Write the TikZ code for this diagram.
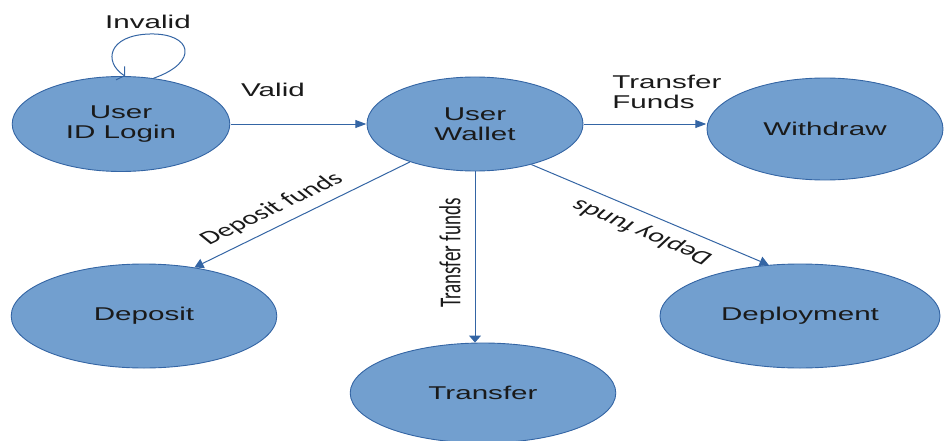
\documentclass[tikz,border=0pt]{standalone}
\usepackage{fontspec}
\setmainfont{Liberation Sans}
\newfontfamily\labfont{Carlito}
\usetikzlibrary{shapes.geometric,arrows.meta}
\definecolor{efill}{HTML}{729FCF}
\definecolor{edraw}{HTML}{3465A4}
\definecolor{ink}{HTML}{1A1A1A}
\begin{document}
\begin{tikzpicture}[x=1pt,y=-1pt,
  st/.style={xscale=1.6},
  state/.style={st, ellipse, draw=edraw, fill=efill, line width=0.9pt, inner sep=0pt,
    text=ink, font=\fontsize{18.5}{20.5}\selectfont, align=center},
  conn/.style={draw=edraw, line width=1pt},
  harr/.style={conn, -{Triangle[length=11pt,width=8pt]}},
  varr/.style={conn, -{Triangle[length=7pt,width=12pt]}},
  darr/.style={conn, -{Triangle[length=9pt,width=10pt]}},
  looparr/.style={conn, -{Straight Barb[length=5pt,width=16pt]}},
  lab/.style={st, text=ink, font=\fontsize{18.5}{20}\selectfont, align=left, inner sep=0pt},
  rlab/.style={st, text=ink, font=\labfont\fontsize{19}{21}\selectfont, inner sep=0pt}]
\useasboundingbox (0,0) rectangle (944,441);

% states
\node[state, minimum width=136pt, minimum height=95pt] (login) at (121,124) {User\\ID Login};
\node[state, minimum width=135pt, minimum height=94pt] (wallet) at (475,124) {User\\Wallet};
\node[state, minimum width=147.5pt, minimum height=102pt] (withdraw) at (825,129) {Withdraw};
\node[state, minimum width=166pt, minimum height=104pt] (deposit) at (144,316) {Deposit};
\node[state, minimum width=166pt, minimum height=100pt] (transfer) at (483,393) {Transfer};
\node[state, minimum width=175pt, minimum height=104pt] (deployment) at (800,316) {Deployment};

% connectors
\draw[looparr] (login.66) .. controls (200,62) and (192,33) .. (150,34)
   .. controls (108,35) and (103,62) .. (login.87);
\draw[harr] (login.east) -- (wallet.west);
\draw[harr] (wallet.east) -- (wallet.east -| withdraw.west);
\draw[varr] (wallet.south) -- (wallet.south |- transfer.north);
\draw[darr] (wallet.223) -- (deposit.57);
\draw[darr] (wallet.311) -- (deployment.111);

% labels
\node[lab] (invalid) at (148,22) {Invalid};
\node[lab] (valid) at (273,90) {Valid};
\node[lab, anchor=west] (tfunds) at (612,92) {Transfer\\Funds};
\node[rlab, rotate=37.5] (depl) at (272,209) {Deposit funds};
\node[rlab, rotate=90] (trl) at (450,253) {Transfer funds};
\node[rlab, rotate=146.3] (dpl) at (642,232) {Deploy funds};
\end{tikzpicture}
\end{document}
